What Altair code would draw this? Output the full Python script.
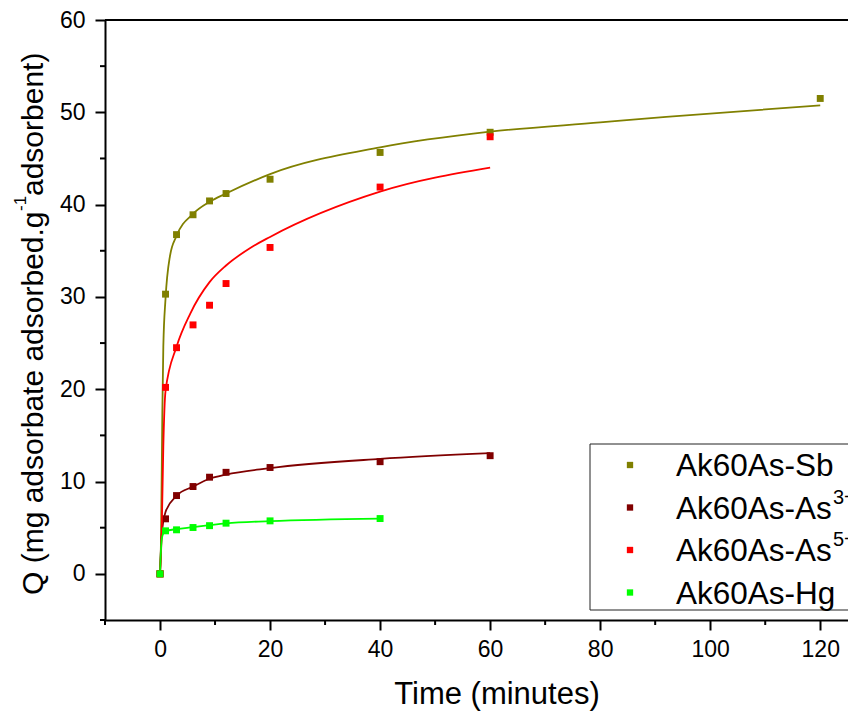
import altair as alt
import pandas as pd

# ---------------- data ----------------
series = ["Ak60As-Sb", "Ak60As-As3+", "Ak60As-As5+", "Ak60As-Hg"]
colors = ["#808000", "#800000", "#FF0000", "#00FF00"]

# measured points
sb_t = [0, 1, 3, 6, 9, 12, 20, 40, 60, 120]
sb_q = [0, 30.3, 36.75, 38.9, 40.4, 41.2, 42.75, 45.65, 47.84, 51.5]
as3_t = [0, 1, 3, 6, 9, 12, 20, 40, 60]
as3_q = [0, 5.96, 8.48, 9.46, 10.47, 11.0, 11.52, 12.15, 12.8]
as5_t = [0, 1, 3, 6, 9, 12, 20, 40, 60]
as5_q = [0, 20.2, 24.5, 26.97, 29.1, 31.45, 35.36, 41.9, 47.35]
hg_t = [0, 1, 3, 6, 9, 12, 20, 40]
hg_q = [0, 4.66, 4.77, 5.02, 5.22, 5.49, 5.74, 5.99]

# fitted curves
sb_fit_t = [0, 0.18, 0.42, 0.6, 1, 1.8, 3, 6, 9, 12, 20, 40, 60, 80, 92, 120]
sb_fit_q = [0, 3.7, 17.4, 24.6, 29.8, 34.4, 36.6, 39.0, 40.3, 41.2, 43.3, 46.2, 47.9, 48.9, 49.5, 50.76]
as3_fit_t = [0, 0.3, 1, 3, 6, 9, 12, 20, 40, 60]
as3_fit_q = [0, 4.2, 6.7, 8.45, 9.45, 10.3, 10.75, 11.45, 12.45, 13.07]
as5_fit_t = [0, 0.3, 0.6, 1, 3, 5.5, 9, 12, 16.4, 20, 40, 60]
as5_fit_q = [0, 4.4, 13.8, 19.8, 24.6, 28.2, 31.6, 33.4, 35.3, 36.5, 41.4, 44.0]
hg_fit_t = [0, 0.3, 0.6, 1, 3, 6, 9, 12, 20, 40]
hg_fit_q = [0, 3.7, 4.4, 4.6, 4.85, 5.05, 5.27, 5.47, 5.71, 5.99]

x_major = [0, 20, 40, 60, 80, 100, 120]
x_minor = [-10, 10, 30, 50, 70, 90, 110]
y_major = [0, 10, 20, 30, 40, 50, 60]
y_minor = [-5, 5, 15, 25, 35, 45, 55]

legend_main = ["Ak60As-Sb", "Ak60As-As", "Ak60As-As", "Ak60As-Hg"]
legend_sup = ["", "3+", "5+", ""]

# ---------------- tables ----------------
def long(ts, qs, name):
    return pd.DataFrame({"t": ts, "q": qs, "series": name})

pts = pd.concat([long(sb_t, sb_q, series[0]), long(as3_t, as3_q, series[1]),
                 long(as5_t, as5_q, series[2]), long(hg_t, hg_q, series[3])])
fits = pd.concat([long(sb_fit_t, sb_fit_q, series[0]), long(as3_fit_t, as3_fit_q, series[1]),
                  long(as5_fit_t, as5_fit_q, series[2]), long(hg_fit_t, hg_fit_q, series[3])])

FONT = "Liberation Sans"
W, H = 751, 600

xaxis = alt.Axis(values=x_major, title=None, grid=False, tickSize=10, tickWidth=2,
                 domainWidth=2, domainColor="black", tickColor="black",
                 labelFontSize=23, labelFont=FONT, labelColor="black", labelPadding=8,
                 format="d", labelFlush=False, labelOverlap=False)
yaxis = alt.Axis(values=y_major, title=None, grid=False, tickSize=10, tickWidth=2,
                 domainWidth=2, domainColor="black", tickColor="black",
                 labelFontSize=23, labelFont=FONT, labelColor="black", labelPadding=10,
                 format="d", labelFlush=False, labelOverlap=False)

X = alt.X("t:Q", scale=alt.Scale(domain=[-10, 126.5], nice=False, zero=False), axis=xaxis)
Y = alt.Y("q:Q", scale=alt.Scale(domain=[-5, 60], nice=False, zero=False), axis=yaxis)
C = alt.Color("series:N", scale=alt.Scale(domain=series, range=colors), legend=None)

layers = []
for i, s in enumerate(series):
    layers.append(alt.Chart(fits[fits.series == s]).mark_line(
        strokeWidth=1.8, interpolate="monotone").encode(x=X, y=Y, color=C))
    layers.append(alt.Chart(pts[pts.series == s]).mark_point(
        shape="square", filled=True, size=48, opacity=1).encode(x=X, y=Y, color=C))

# minor ticks
layers.append(alt.Chart(pd.DataFrame({"t": x_minor})).mark_rule(color="black", strokeWidth=2)
              .encode(x=X, y=alt.value(H), y2=alt.value(H + 5)))
layers.append(alt.Chart(pd.DataFrame({"q": y_minor})).mark_rule(color="black", strokeWidth=2)
              .encode(y=Y, x=alt.value(-5), x2=alt.value(0)))

one = pd.DataFrame({"a": [0]})
# top frame line
layers.append(alt.Chart(one).mark_rule(color="black", strokeWidth=2)
              .encode(x=alt.value(0), x2=alt.value(W + 40), y=alt.value(0)))

# axis titles
def txt(s, x, y, size, angle=0, align="left"):
    kw = dict(text=s, align=align, baseline="alphabetic", fontSize=size, font=FONT, color="black")
    if angle:
        kw["angle"] = angle
    return alt.Chart(one).mark_text(**kw).encode(x=alt.value(x), y=alt.value(y))

layers.append(txt("Time (minutes)", 392, 684, 31, align="center"))
layers.append(txt("Q (mg adsorbate adsorbed.g", -62, 575, 30, angle=270))
layers.append(txt("-1", -79, 191, 17, angle=270))
layers.append(txt(" adsorbent)", -62, 176, 30, angle=270))

# legend
layers.append(alt.Chart(one).mark_rect(fill="white", stroke="#222222", strokeWidth=1)
              .encode(x=alt.value(485), x2=alt.value(W + 40), y=alt.value(424), y2=alt.value(590)))
for i in range(4):
    base = 456 + 42.5 * i
    layers.append(alt.Chart(one).mark_point(shape="square", filled=True, size=40, opacity=1,
                                            color=colors[i])
                  .encode(x=alt.value(525), y=alt.value(base - 11)))
    layers.append(txt(legend_main[i], 571, base, 31.5))
    if legend_sup[i]:
        layers.append(txt(legend_sup[i], 728, base - 15, 20))

chart = alt.layer(*layers).properties(
    width=W, height=H,
    padding={"left": 97, "top": 12, "right": -8, "bottom": 93},
    autosize=alt.AutoSizeParams(type="none"),
).configure_view(strokeWidth=0)

chart.save("out.html", embed_options={"renderer": "svg", "actions": False})
